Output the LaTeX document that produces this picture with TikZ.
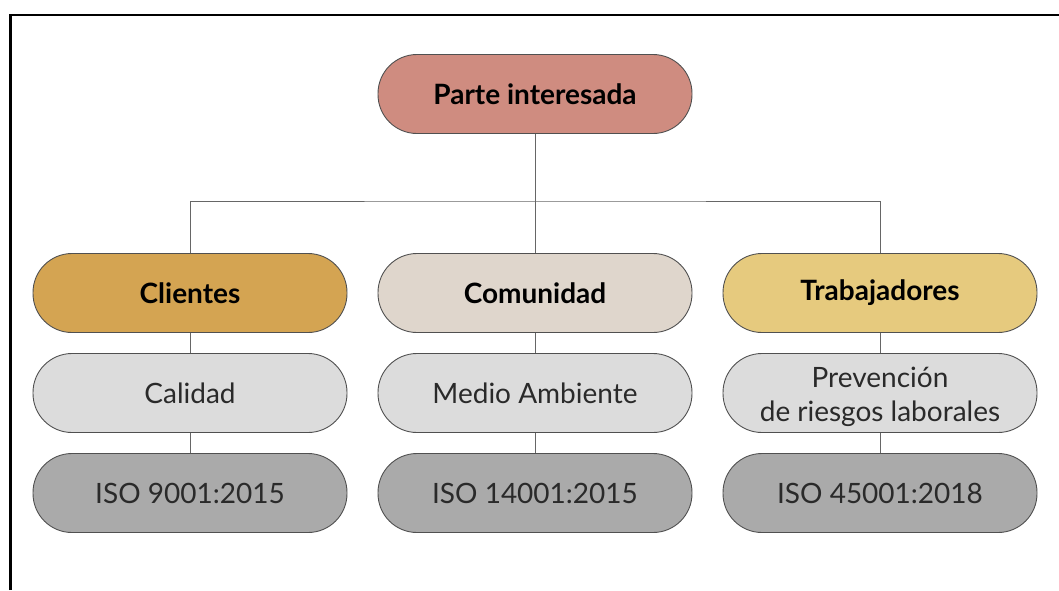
\documentclass[tikz,border=0pt]{standalone}
\usepackage{fontspec}
\setmainfont{Lato}
\definecolor{cpi}{HTML}{CF8C80}
\definecolor{ccli}{HTML}{D4A452}
\definecolor{ccom}{HTML}{DFD6CC}
\definecolor{ctra}{HTML}{E6CA7E}
\definecolor{cmid}{HTML}{DCDCDC}
\definecolor{ciso}{HTML}{AAAAAA}
\definecolor{cedge}{HTML}{505050}
\definecolor{cline}{HTML}{666666}
\definecolor{ctext}{HTML}{2A2A2A}
\begin{document}
\begin{tikzpicture}[x=1pt,y=-1pt,
  pill/.style={draw=cedge, line width=0.9pt, rounded corners=39pt,
    minimum width=314pt, minimum height=79pt, inner sep=0pt, align=center,
    font=\fontsize{28}{34}\selectfont, text=ctext},
  title/.style={pill, font=\fontsize{28}{34}\selectfont\bfseries, text=black},
  conn/.style={draw=cline, line width=1pt}]
\useasboundingbox (0,0) rectangle (1059,590);
\draw[line width=2.5pt, black] (10.5,590) -- (10.5,15) -- (1059,15);
\node[title, fill=cpi] (pi) at (535,94) {Parte interesada};
\node[title, fill=ccli] (cli) at (190,293) {Clientes};
\node[title, fill=ccom] (com) at (535,293) {Comunidad};
\node[title, fill=ctra] (tra) at (880,293) {Trabajadores};
\node[pill, fill=cmid] (cal) at (190,393) {Calidad};
\node[pill, fill=cmid] (med) at (535,393) {Medio Ambiente};
\node[pill, fill=cmid] (pre) at (880,393) {\raisebox{-5pt}[\height][\depth]{\begin{tabular}{@{}c@{}}Prevención\\de riesgos laborales\end{tabular}}};
\node[pill, fill=ciso] (iso1) at (190,493) {ISO 9001:2015};
\node[pill, fill=ciso] (iso2) at (535,493) {ISO 14001:2015};
\node[pill, fill=ciso] (iso3) at (880,493) {ISO 45001:2018};
\coordinate (j) at (535,201);
\draw[conn] (pi.south) -- (j);
\draw[conn] (cli.north) |- (j) -| (tra.north);
\draw[conn] (j) -- (com.north);
\draw[conn] (cli.south) -- (cal.north);
\draw[conn] (cal.south) -- (iso1.north);
\draw[conn] (com.south) -- (med.north);
\draw[conn] (med.south) -- (iso2.north);
\draw[conn] (tra.south) -- (pre.north);
\draw[conn] (pre.south) -- (iso3.north);
\end{tikzpicture}
\end{document}
